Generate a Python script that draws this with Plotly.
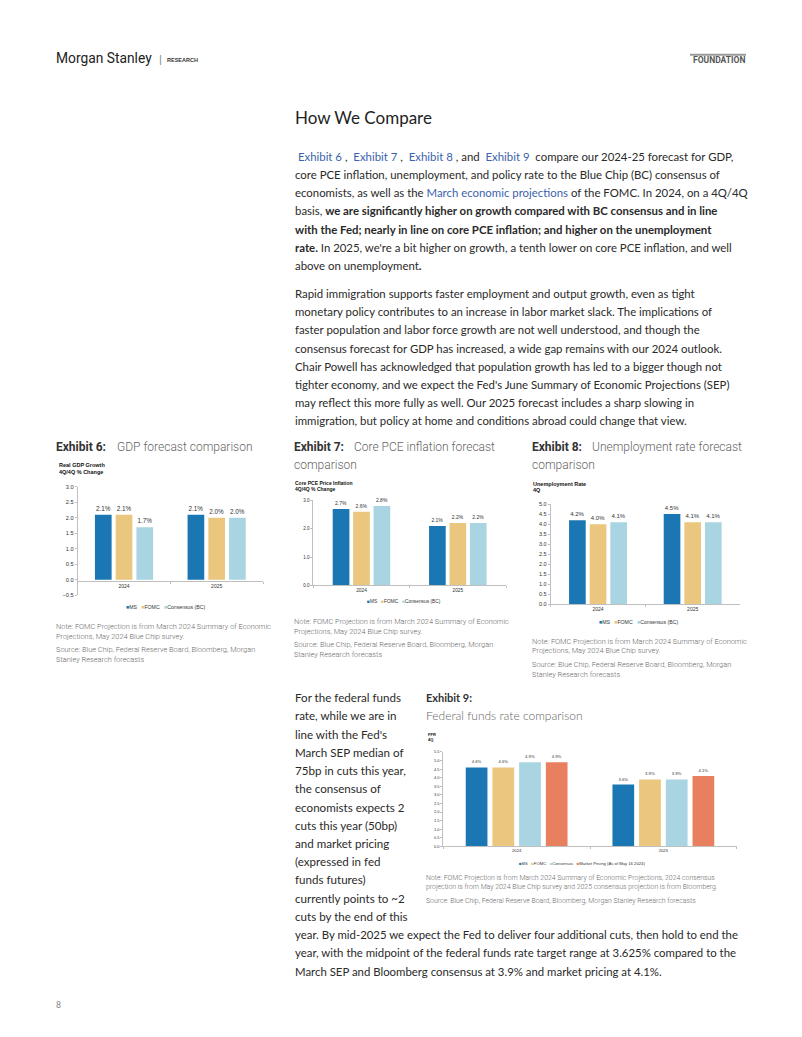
import plotly.graph_objects as go

# ---------------- data ----------------
categories = ["2024", "2025"]
series_3 = ["MS", "FOMC", "Consensus (BC)"]
series_4 = ["MS", "FOMC", "Consensus", "Market Pricing (As of May 16 2024)"]

gdp_ms = [2.1, 2.1]
gdp_fomc = [2.1, 2.0]
gdp_cons = [1.7, 2.0]

pce_ms = [2.7, 2.1]
pce_fomc = [2.6, 2.2]
pce_cons = [2.8, 2.2]

ur_ms = [4.2, 4.5]
ur_fomc = [4.0, 4.1]
ur_cons = [4.1, 4.1]

ffr_ms = [4.6, 3.6]
ffr_fomc = [4.6, 3.9]
ffr_cons = [4.9, 3.9]
ffr_mkt = [4.9, 4.1]

gdp_ticks = [-0.5, 0.0, 0.5, 1.0, 1.5, 2.0, 2.5, 3.0]
pce_ticks = [0.0, 1.0, 2.0, 3.0]
ur_ticks = [0.0, 0.5, 1.0, 1.5, 2.0, 2.5, 3.0, 3.5, 4.0, 4.5, 5.0]
ffr_ticks = [0.0, 0.5, 1.0, 1.5, 2.0, 2.5, 3.0, 3.5, 4.0, 4.5, 5.0, 5.5]

# ---------------- helpers ----------------
W, H = 802, 1037
def px(x):
    return x / W
def py(y):
    return 1 - y / H

C_MS = "#1b77b3"
C_FOMC = "#eac67e"
C_CONS = "#a8d5e1"
C_MKT = "#e8805f"
AXC = "#bfbfbf"
CHART_FONT = "Liberation Sans, Arial"
BODY_FONT = "Lato"
NOTE_FONT = "Roboto"

fig = go.Figure()
annotations = []
shapes = []

def add_chart(n, xdom, ydom, yrange, ticks, data, names, colors, w, s,
              lab_size, tick_size, cat_size, xpos=None):
    xa = "x" if n == 1 else f"x{n}"
    ya = "y" if n == 1 else f"y{n}"
    k = len(data)
    span = k * s - (s - w)
    for i, (vals, name, col) in enumerate(zip(data, names, colors)):
        fig.add_trace(go.Bar(
            x=categories, y=vals, name=name, marker=dict(color=col, line=dict(width=0)),
            width=w, offset=-span / 2 + i * s,
            text=[f"{v:.1f}%" for v in vals], textposition="outside",
            textfont=dict(size=lab_size, color="#333", family=CHART_FONT),
            constraintext="none", cliponaxis=False, showlegend=False,
            xaxis=xa, yaxis=ya,
            hovertemplate="%{x}: %{y:.1f}%<extra>" + name + "</extra>",
        ))
    xkey = "xaxis" if n == 1 else f"xaxis{n}"
    ykey = "yaxis" if n == 1 else f"yaxis{n}"
    xdef = dict(domain=[px(xdom[0]), px(xdom[1])], type="category",
                categoryorder="array", categoryarray=categories, range=[-0.5, 1.5],
                showline=True, linecolor=AXC, linewidth=1, ticks="outside",
                tickson="boundaries", ticklen=2, tickcolor=AXC, showgrid=False,
                tickfont=dict(size=cat_size, color="#333", family=CHART_FONT),
                fixedrange=True)
    if xpos is not None:
        xdef.update(anchor="free", position=py(xpos))
    else:
        xdef.update(anchor=ya)
    ydef = dict(domain=[py(ydom[1]), py(ydom[0])], range=yrange, anchor=xa,
                tickvals=ticks, tickformat=".1f", ticksuffix="%",
                showline=True, linecolor=AXC, linewidth=1, ticks="outside",
                ticklen=2, tickcolor=AXC, showgrid=False, zeroline=False,
                tickfont=dict(size=tick_size, color="#333", family=CHART_FONT),
                fixedrange=True)
    fig.layout[xkey] = xdef
    fig.layout[ykey] = ydef

# Chart 1: GDP
add_chart(1, (77.7, 263), (486.7, 595.7), [-0.5, 3.0], gdp_ticks,
          [gdp_ms, gdp_fomc, gdp_cons], series_3, [C_MS, C_FOMC, C_CONS],
          0.18, 0.224, 6.3, 5.6, 5.0, xpos=581.7)
# Chart 2: Core PCE
add_chart(2, (313.3, 506), (500.3, 585.7), [0, 3.0], pce_ticks,
          [pce_ms, pce_fomc, pce_cons], series_3, [C_MS, C_FOMC, C_CONS],
          0.173, 0.212, 5.0, 4.5, 4.8)
# Chart 3: Unemployment
add_chart(3, (550.7, 740), (504, 605), [0, 5.0], ur_ticks,
          [ur_ms, ur_fomc, ur_cons], series_3, [C_MS, C_FOMC, C_CONS],
          0.176, 0.218, 6.0, 5.5, 5.0)
# Chart 4: FFR
add_chart(4, (443.3, 736.7), (753.3, 848.3), [0, 5.5], ffr_ticks,
          [ffr_ms, ffr_fomc, ffr_cons, ffr_mkt], series_4, [C_MS, C_FOMC, C_CONS, C_MKT],
          0.148, 0.182, 4.2, 4.0, 4.2)

def txt(x, y, text, size, color="#333", family=BODY_FONT, anchor="left", weight=None):
    f = dict(size=size, color=color, family=family)
    if weight is not None:
        f["weight"] = weight
    annotations.append(dict(x=px(x), y=py(y - 0.17 * size), xref="paper", yref="paper",
                            text=text, showarrow=False, xanchor=anchor,
                            yanchor="middle", font=f, borderpad=0))

def legend(xc, y, names, colors, size):
    parts = [f"<span style='color:{c}'>■</span>{n}" for n, c in zip(names, colors)]
    txt(xc, y, "   ".join(parts), size, "#333", CHART_FONT, anchor="center")

legend(165, 608, series_3, [C_MS, C_FOMC, C_CONS], 5.2)
legend(404, 602.7, series_3, [C_MS, C_FOMC, C_CONS], 4.8)
legend(638, 623, series_3, [C_MS, C_FOMC, C_CONS], 5.2)
legend(582, 866.7, series_4, [C_MS, C_FOMC, C_CONS, C_MKT], 4.2)

# chart inner titles
txt(58, 466, "<b>Real GDP Growth</b>", 5.5, "#111", CHART_FONT)
txt(58, 472.3, "<b>4Q/4Q % Change</b>", 5.5, "#111", CHART_FONT)
txt(294, 484, "<b>Core PCE Price Inflation</b>", 5.0, "#111", CHART_FONT)
txt(294, 490, "<b>4Q/4Q % Change</b>", 5.0, "#111", CHART_FONT)
txt(532, 485, "<b>Unemployment Rate</b>", 5.5, "#111", CHART_FONT)
txt(532, 490.5, "<b>4Q</b>", 5.5, "#111", CHART_FONT)
txt(427, 736.5, "<b>FFR</b>", 4.0, "#111", CHART_FONT)
txt(427, 741.5, "<b>4Q</b>", 4.0, "#111", CHART_FONT)

# header
txt(55, 58, "Morgan Stanley", 13.8, "#222", "Liberation Sans Narrow, Roboto")
txt(158, 58, "|", 11, "#888", "Liberation Sans")
txt(166, 58.5, "<b>RESEARCH</b>", 5.5, "#333", "Liberation Sans")
txt(746, 59, "<b>FOUNDATION</b>", 8.5, "#555", "Liberation Sans Narrow, Roboto", anchor="right")
shapes.append(dict(type="rect", xref="paper", yref="paper", x0=px(690), x1=px(746),
                   y0=py(53), y1=py(51), fillcolor="#9a9a9a", line=dict(width=0)))

# title
txt(294, 118.3, "How We Compare", 17, "#222")

LINK = "#3b63ad"
def link(t):
    return f"<span style='color:{LINK}'>{t}</span>"

BODY = 11.4
para1 = [
    f" {link('Exhibit 6')} ,  {link('Exhibit 7')} ,  {link('Exhibit 8')} , and  {link('Exhibit 9')}  compare our 2024-25 forecast for GDP,",
    "core PCE inflation, unemployment, and policy rate to the Blue Chip (BC) consensus of",
    f"economists, as well as the {link('March economic projections')} of the FOMC. In 2024, on a 4Q/4Q",
    "basis, <b>we are significantly higher on growth compared with BC consensus and in line</b>",
    "<b>with the Fed; nearly in line on core PCE inflation; and higher on the unemployment</b>",
    "<b>rate.</b> In 2025, we're a bit higher on growth, a tenth lower on core PCE inflation, and well",
    "above on unemployment<b>.</b>",
]
for i, line in enumerate(para1):
    txt(294, 156 + i * 18.33, line, BODY, "#2a2a2a")

para2 = [
    "Rapid immigration supports faster employment and output growth, even as tight",
    "monetary policy contributes to an increase in labor market slack. The implications of",
    "faster population and labor force growth are not well understood, and though the",
    "consensus forecast for GDP has increased, a wide gap remains with our 2024 outlook.",
    "Chair Powell has acknowledged that population growth has led to a bigger though not",
    "tighter economy, and we expect the Fed's June Summary of Economic Projections (SEP)",
    "may reflect this more fully as well. Our 2025 forecast includes a sharp slowing in",
    "immigration, but policy at home and conditions abroad could change that view.",
]
for i, line in enumerate(para2):
    txt(294, 294 + i * 18.33, line, BODY, "#2a2a2a")

# exhibit headings
EXD = "#666"
txt(55, 449, "<b>Exhibit 6:</b>", 12, "#333", NOTE_FONT)
txt(116, 449, "GDP forecast comparison", 12, EXD, NOTE_FONT, weight=300)
txt(293, 449, "<b>Exhibit 7:</b>", 12, "#333", NOTE_FONT)
txt(353, 449, "Core PCE inflation forecast", 12, EXD, NOTE_FONT, weight=300)
txt(293, 467, "comparison", 12, EXD, NOTE_FONT, weight=300)
txt(531, 449, "<b>Exhibit 8:</b>", 12, "#333", NOTE_FONT)
txt(591, 449, "Unemployment rate forecast", 12, EXD, NOTE_FONT, weight=300)
txt(531, 467, "comparison", 12, EXD, NOTE_FONT, weight=300)
txt(425, 700.7, "<b>Exhibit 9:</b>", 11, "#333", BODY_FONT)
txt(425, 718.3, "Federal funds rate comparison", 12, EXD, BODY_FONT, weight=300)

# notes
NC = "#6a6a6a"
note_lines = [
    "Note: FOMC Projection is from March 2024 Summary of Economic",
    "Projections, May 2024 Blue Chip survey.",
    "Source: Blue Chip, Federal Reserve Board, Bloomberg, Morgan",
    "Stanley Research forecasts",
]
for (x0, ys) in [(55, [628, 638, 651.5, 661.5]), (293, [623, 633, 646.5, 656.5]),
                 (531, [643, 653, 666.5, 676.5])]:
    for line, yy in zip(note_lines, ys):
        txt(x0, yy, line, 7.4, NC, NOTE_FONT, weight=300)

txt(425, 881.5, "Note: FOMC Projection is from March 2024 Summary of Economic Projections, 2024 consensus", 6.9, NC, NOTE_FONT, weight=300)
txt(425, 890, "projection is from May 2024 Blue Chip survey and 2025 consensus projection is from Bloomberg.", 6.9, NC, NOTE_FONT, weight=300)
txt(425, 904, "Source: Blue Chip, Federal Reserve Board, Bloomberg, Morgan Stanley Research forecasts", 6.9, NC, NOTE_FONT, weight=300)

# left column text
col_lines = [
    "For the federal funds",
    "rate, while we are in",
    "line with the Fed's",
    "March SEP median of",
    "75bp in cuts this year,",
    "the consensus of",
    "economists expects 2",
    "cuts this year (50bp)",
    "and market pricing",
    "(expressed in fed",
    "funds futures)",
    "currently points to ~2",
    "cuts by the end of this",
    "year. By mid-2025 we expect the Fed to deliver four additional cuts, then hold to end the",
    "year, with the midpoint of the federal funds rate target range at 3.625% compared to the",
    "March SEP and Bloomberg consensus at 3.9% and market pricing at 4.1%.",
]
for i, line in enumerate(col_lines):
    txt(294, 700.7 + i * 18.33, line, 11.6 if i < 13 else BODY, "#2a2a2a")

# page number
txt(55, 1009, "8", 9, "#888", NOTE_FONT)

fig.update_layout(
    width=W, height=H, margin=dict(l=0, r=0, t=0, b=0),
    paper_bgcolor="white", plot_bgcolor="white",
    barmode="overlay", showlegend=False,
    annotations=annotations, shapes=shapes,
    font=dict(family=CHART_FONT),
)

fig.write_html("out.html", config={"displayModeBar": False},
               post_script="document.body.style.margin='0';document.body.style.padding='0';")
